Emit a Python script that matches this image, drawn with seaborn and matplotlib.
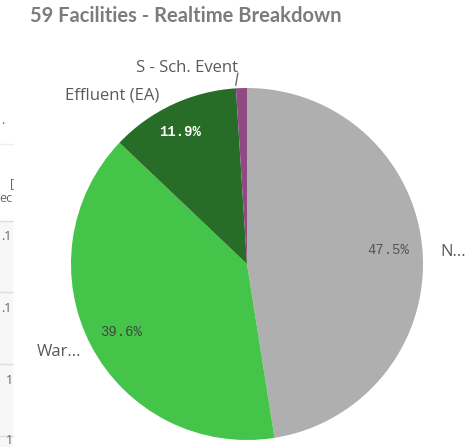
import matplotlib
matplotlib.use("Agg")
import matplotlib.pyplot as plt
from matplotlib.lines import Line2D
from matplotlib.patches import Rectangle
import seaborn as sns

# Slice data (clockwise from 12 o'clock)
categories = ["N...", "War...", "Effluent (EA)", "S - Sch. Event"]
shares = [47.5, 39.6, 11.9, 1.0]
colors = ["#b0afaf", "#45c44a", "#276d28", "#8f4a82"]
pct_labels = ["47.5%", "39.6%", "11.9%", ""]

sns.set_theme(style="white")
plt.rcParams["font.family"] = ["Open Sans", "DejaVu Sans"]

fig = plt.figure(figsize=(4.75, 4.47), dpi=100)
W, H = 475, 447

# pie axes: centre (247, 264) px, radius 176 px
cx, cy, r = 247, 264, 176
ax = fig.add_axes([(cx - r) / W, 1 - (cy + r) / H, 2 * r / W, 2 * r / H])
wedges, _ = ax.pie(shares, colors=colors, startangle=90, counterclock=False,
                   radius=1.0, wedgeprops=dict(linewidth=0))
ax.set_xlim(-1, 1)
ax.set_ylim(-1, 1)
ax.set_aspect("equal")
ax.axis("off")

label_col = "#5a5a5a"
lab_fs = 12
# category labels
ax.text(1.10, 0.07, categories[0], ha="left", va="center", fontsize=lab_fs, color=label_col)
ax.text(-0.94, -0.50, categories[1], ha="right", va="center", fontsize=lab_fs, color=label_col)
ax.text(-0.50, 0.96, categories[2], ha="right", va="center", fontsize=lab_fs, color=label_col,
        clip_on=False)
ax.text(-0.05, 1.115, categories[3], ha="right", va="center", fontsize=lab_fs, color=label_col,
        clip_on=False)
ax.add_line(Line2D([-0.052, -0.064], [1.085, 1.015], color="#6a6a6a", lw=1.0, clip_on=False))

# percentage labels
mono = ["Liberation Mono", "DejaVu Sans Mono"]
ax.text(0.80, 0.08, pct_labels[0], ha="center", va="center", fontsize=10,
        color="#555555", family=mono)
ax.text(-0.716, -0.386, pct_labels[1], ha="center", va="center", fontsize=10,
        color="#3f4a3f", family=mono)
ax.text(-0.38, 0.75, pct_labels[2], ha="center", va="center", fontsize=10,
        color="white", fontweight="bold", family=mono)

# title
fig.text(30 / W, 1 - 16 / H, "59 Facilities - Realtime Breakdown", ha="left", va="center",
         fontsize=14.5, fontweight="bold", color="#7c7c7c", family=["Lato", "DejaVu Sans"])

# cropped table fragment on the left edge
fig.add_artist(Rectangle((0, 0), 13 / W, 1 - 222 / H, transform=fig.transFigure,
                         facecolor="#f7f7f7", edgecolor="none"))
for y in [144, 221, 292, 364, 436]:
    col = "#eeeeee" if y == 144 else "#dddddd"
    fig.add_artist(Line2D([0, 13 / W], [1 - y / H] * 2, transform=fig.transFigure,
                          color=col, lw=1))
frag = [(3, 121, "."), (12, 184, "["), (6, 198, "ec"), (6, 237, ".1"), (6, 309, ".1"),
        (9, 381, "1"), (9, 440, "1")]
for x, y, s in frag:
    fig.text(x / W, 1 - y / H, s, ha="center", va="center", fontsize=9, color="#666666")

fig.savefig("out.png", dpi=100)
